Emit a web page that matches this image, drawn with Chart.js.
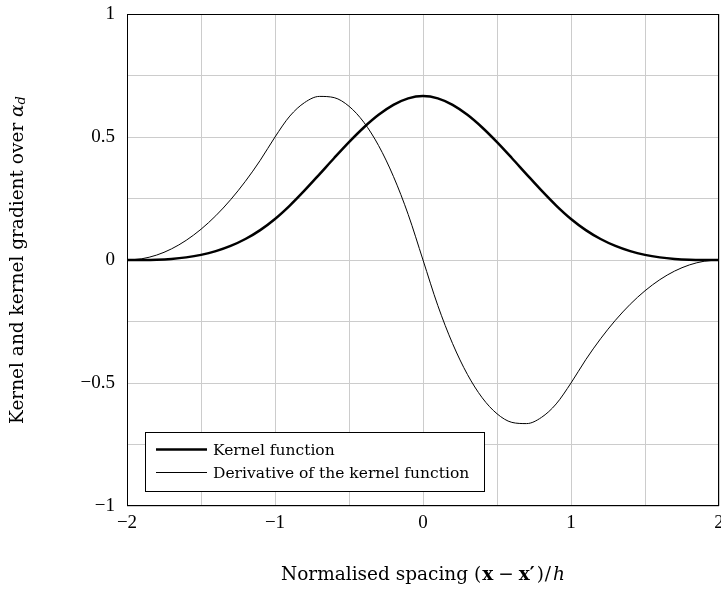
<!DOCTYPE html>
<html>
<head>
<meta charset="utf-8">
<script src="https://cdn.jsdelivr.net/npm/chart.js@4.4.0/dist/chart.umd.min.js"></script>
<style>
  html, body { margin: 0; padding: 0; background: #fff; }
</style>
</head>
<body>
<canvas id="kernelChart" width="721" height="590"></canvas>
<script>
// Cubic spline kernel and its derivative
const spacing = [-2.0, -1.9, -1.8, -1.7, -1.6, -1.5, -1.4, -1.3, -1.2, -1.1, -1.0,
                 -0.9, -0.8, -0.7, -0.6, -0.5, -0.4, -0.3, -0.2, -0.1, 0.0,
                 0.1, 0.2, 0.3, 0.4, 0.5, 0.6, 0.7, 0.8, 0.9, 1.0,
                 1.1, 1.2, 1.3, 1.4, 1.5, 1.6, 1.7, 1.8, 1.9, 2.0];
const kernelValues = [0, 0.0002, 0.0013, 0.0045, 0.0107, 0.0208, 0.036, 0.0572, 0.0853, 0.1215, 0.1667,
                      0.2212, 0.2827, 0.3482, 0.4147, 0.4792, 0.5387, 0.5902, 0.6307, 0.6572, 0.6667,
                      0.6572, 0.6307, 0.5902, 0.5387, 0.4792, 0.4147, 0.3482, 0.2827, 0.2212, 0.1667,
                      0.1215, 0.0853, 0.0572, 0.036, 0.0208, 0.0107, 0.0045, 0.0013, 0.0002, 0];
const derivativeValues = [0, 0.005, 0.02, 0.045, 0.08, 0.125, 0.18, 0.245, 0.32, 0.405, 0.5,
                          0.585, 0.64, 0.665, 0.66, 0.625, 0.56, 0.465, 0.34, 0.185, 0,
                          -0.185, -0.34, -0.465, -0.56, -0.625, -0.66, -0.665, -0.64, -0.585, -0.5,
                          -0.405, -0.32, -0.245, -0.18, -0.125, -0.08, -0.045, -0.02, -0.005, 0];
const seriesLabels = ['Kernel function', 'Derivative of the kernel function'];
const xTickLabels = [-2, -1, 0, 1, 2];
const yTickLabels = [-1, -0.5, 0, 0.5, 1];

const textFont = '"DejaVu Serif", serif';
const tickFont = { family: '"Liberation Serif", serif', size: 19 };

function fmt(v) {
    return String(v).replace('-', '\u2212');
}

function toPoints(ys) {
    return spacing.map((x, i) => ({ x: x, y: ys[i] }));
}

// pieces of text drawn one after another: [text, style, size, dy, extra gap after]
function drawRich(ctx, parts, size) {
    const widthOf = p => {
        ctx.font = (p[1] || '') + ' ' + (p[2] || size) + 'px ' + textFont;
        return ctx.measureText(p[0]).width + (p[4] || 0);
    };
    const w = parts.reduce((s, p) => s + widthOf(p), 0);
    let x = -w / 2;
    parts.forEach(p => {
        const pw = widthOf(p);
        ctx.fillText(p[0], x, p[3] || 0);
        x += pw;
    });
}

const framePlugin = {
    id: 'frame',
    afterDatasetsDraw(chart) {
        const ctx = chart.ctx;
        const a = chart.chartArea;
        ctx.save();
        // axis box
        ctx.strokeStyle = '#000';
        ctx.lineWidth = 1;
        ctx.strokeRect(a.left + 0.5, a.top + 0.5, a.right - a.left - 1, a.bottom - a.top - 1);

        // legend
        const lx = a.left + 18, ly = a.bottom - 74;
        ctx.fillStyle = '#fff';
        ctx.fillRect(lx, ly, 339, 59);
        ctx.strokeRect(lx + 0.5, ly + 0.5, 339, 59);
        ctx.fillStyle = '#000';
        ctx.textBaseline = 'middle';
        ctx.textAlign = 'left';
        ctx.font = '15.5px ' + textFont;
        [2.5, 1].forEach((lw, i) => {
            const yy = ly + 17.5 + i * 23;
            ctx.lineWidth = lw;
            ctx.beginPath();
            ctx.moveTo(lx + 11, yy);
            ctx.lineTo(lx + 62, yy);
            ctx.stroke();
            ctx.fillText(seriesLabels[i], lx + 68, yy + 1);
        });
        ctx.restore();
    },
    afterDraw(chart) {
        const ctx = chart.ctx;
        const a = chart.chartArea;
        ctx.save();
        ctx.fillStyle = '#000';
        ctx.textBaseline = 'middle';
        ctx.textAlign = 'left';
        // x title
        ctx.save();
        ctx.translate((a.left + a.right) / 2, 575);
        drawRich(ctx, [
            ['Normalised spacing (', '', 0, 0, 1], ['x', 'bold', 0, 0, 5], ['\u2212', '', 0, 0, 5],
            ['x', 'bold'], ['\u2032', 'bold', 0, 0, 2], [')', '', 0, 0, 1], ['/', '', 0, 0, 2],
            ['h', 'italic']
        ], 18.5);
        ctx.restore();
        // y title
        ctx.save();
        ctx.translate(18, (a.top + a.bottom) / 2);
        ctx.rotate(-Math.PI / 2);
        drawRich(ctx, [
            ['Kernel and kernel gradient over '], ['\u03b1', 'italic'], ['d', 'italic', 13, 4]
        ], 18.5);
        ctx.restore();
        ctx.restore();
    }
};

new Chart(document.getElementById('kernelChart').getContext('2d'), {
    type: 'line',
    data: {
        datasets: [{
            label: seriesLabels[0],
            data: toPoints(kernelValues),
            borderColor: '#000',
            borderWidth: 2.5,
            pointRadius: 0,
            cubicInterpolationMode: 'monotone',
            fill: false
        }, {
            label: seriesLabels[1],
            data: toPoints(derivativeValues),
            borderColor: '#000',
            borderWidth: 1,
            pointRadius: 0,
            cubicInterpolationMode: 'monotone',
            fill: false
        }]
    },
    options: {
        responsive: false,
        animation: false,
        layout: { padding: { top: 14, right: 2, left: 0, bottom: 0 } },
        plugins: { legend: { display: false }, tooltip: { enabled: false } },
        scales: {
            x: {
                type: 'linear',
                min: -2,
                max: 2,
                grid: { color: '#cccccc', drawTicks: false },
                border: { display: false },
                ticks: {
                    stepSize: 0.5,
                    padding: 6,
                    maxRotation: 0,
                    font: tickFont,
                    color: '#000',
                    callback: v => xTickLabels.includes(v) ? fmt(v) : ''
                },
                afterFit: s => { s.height = 84; s.paddingLeft = 0; s.paddingRight = 0; }
            },
            y: {
                min: -1,
                max: 1,
                grid: { color: '#cccccc', drawTicks: false },
                border: { display: false },
                ticks: {
                    stepSize: 0.25,
                    padding: 12,
                    font: tickFont,
                    color: '#000',
                    callback: v => yTickLabels.includes(v) ? fmt(v) : ''
                },
                afterFit: s => { s.width = 127; s.paddingTop = 0; s.paddingBottom = 0; }
            }
        }
    },
    plugins: [framePlugin]
});
</script>
</body>
</html>
